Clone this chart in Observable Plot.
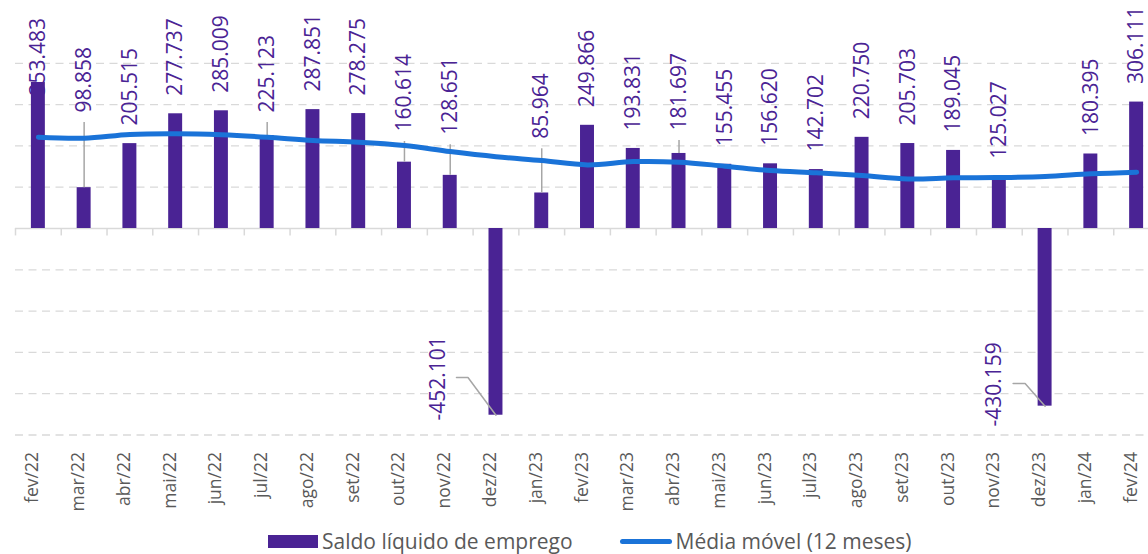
<!DOCTYPE html>
<html>
<head>
<meta charset="utf-8">
<script src="https://cdn.jsdelivr.net/npm/d3@7"></script>
<script src="https://cdn.jsdelivr.net/npm/@observablehq/plot@0.6"></script>
<style>
  html, body { margin: 0; padding: 0; width: 1148px; height: 554px; overflow: hidden; background: #fff; font-family: "Open Sans", sans-serif; }
  #chart { position: absolute; left: 0; top: 0; }
  #chart svg { overflow: hidden; }
  #legend { position: absolute; left: 268px; top: 529px; display: flex; align-items: center; height: 24px; line-height: 24px; font-size: 21px; color: #595959; white-space: nowrap; }
  #legend .sw1 { width: 50px; height: 13px; background: #4a2394; margin-right: 4px; }
  #legend .sw2 { width: 52px; height: 5px; border-radius: 3px; background: #1a73d8; margin-left: 47px; margin-right: 4px; }
</style>
</head>
<body>
<div id="chart"></div>
<div id="legend"><span class="sw1"></span><span>Saldo líquido de emprego</span><span class="sw2"></span><span>Média móvel (12 meses)</span></div>
<script>
// ---- data (thousands) ----
const months = ["fev/22","mar/22","abr/22","mai/22","jun/22","jul/22","ago/22","set/22","out/22","nov/22","dez/22","jan/23","fev/23","mar/23","abr/23","mai/23","jun/23","jul/23","ago/23","set/23","out/23","nov/23","dez/23","jan/24","fev/24"];
const saldo = [353.483, 98.858, 205.515, 277.737, 285.009, 225.123, 287.851, 278.275, 160.614, 128.651, -452.101, 85.964, 249.866, 193.831, 181.697, 155.455, 156.620, 142.702, 220.750, 205.703, 189.045, 125.027, -430.159, 180.395, 306.111];
const mediaMovel = [221, 218.6, 227.6, 229.3, 226.9, 221, 213, 209, 201, 186.4, 174, 164.6, 154, 162, 160.6, 151, 140.4, 134.8, 128.3, 120, 122.7, 123.5, 126, 132.4, 136.4];
const gridValues = [400, 300, 200, 100, -100, -200, -300, -400, -500];

// ---- label annotation placement (value units) ----
const leaderTops = new Map([["mar/22", 256.7], ["jul/22", 256.7], ["out/22", 210.7], ["nov/22", 202.6], ["jan/23", 193], ["abr/23", 213]]);
const pinnedLabels = new Map([["fev/22", 322]]);
const negativeLabels = new Map([
  ["dez/22", {at: -464.9, shift: -1.267, elbow: -360.8, e1: -0.612, e2: -0.863}],
  ["dez/23", {at: -479.4, shift: -1.104, elbow: -375.3, e1: -0.437, e2: -0.699}]
]);

const purple = "#4a2394";
const blue = "#1a73d8";
const grid = "#d9d9d9";

const data = months.map((m, i) => ({i, m, v: saldo[i], ma: mediaMovel[i], label: saldo[i].toFixed(3)}));
const normal = data.filter(d => !leaderTops.has(d.m) && !pinnedLabels.has(d.m) && !negativeLabels.has(d.m));
const leader = data.filter(d => leaderTops.has(d.m)).map(d => ({...d, top: leaderTops.get(d.m)}));
const pinned = data.filter(d => pinnedLabels.has(d.m)).map(d => ({...d, at: pinnedLabels.get(d.m)}));
const negs = data.filter(d => negativeLabels.has(d.m)).map(d => ({...d, ...negativeLabels.get(d.m)}));
const negLeaderPts = negs.flatMap(d => [
  {g: d.m, x: d.i, y: d.v},
  {g: d.m, x: d.i + d.e1, y: d.elbow},
  {g: d.m, x: d.i + d.e2, y: d.elbow}
]);
const boundaries = d3.range(months.length + 1).map(k => k - 0.5);

const labelStyle = {rotate: -90, textAnchor: "start", fontSize: 21, fill: purple, fontFamily: "Open Sans"};

const chart = Plot.plot({
  width: 1148,
  height: 528,
  marginTop: 62.8,
  marginBottom: 93.5,
  marginLeft: 15,
  marginRight: 0,
  x: {type: "linear", domain: [-0.5, months.length - 0.5], range: [15, 1159], axis: null},
  y: {domain: [-500, 400], axis: null},
  style: {fontFamily: "Open Sans", background: "transparent", overflow: "hidden"},
  marks: [
    Plot.ruleY(gridValues, {stroke: grid, strokeWidth: 1.3, strokeDasharray: "8,5.5"}),
    Plot.ruleY([0], {stroke: grid, strokeWidth: 1.6}),
    Plot.ruleX(boundaries, {x: d => d, y1: () => 0, y2: () => -18, stroke: grid, strokeWidth: 1.5}),
    Plot.text(normal, {x: "i", y: "v", text: "label", dy: -18, ...labelStyle}),
    Plot.text(leader, {x: "i", y: "top", text: "label", dy: -10, ...labelStyle}),
    Plot.text(pinned, {x: "i", y: "at", text: "label", ...labelStyle}),
    Plot.text(negs, {x: d => d.i + d.shift, y: "at", text: "label", ...labelStyle}),
    Plot.rectY(data, {x1: d => d.i - 0.5, x2: d => d.i + 0.5, y1: () => 0, y2: "v", insetLeft: 15.9, insetRight: 15.9, fill: purple}),
    Plot.ruleX(leader, {x: "i", y1: "v", y2: "top", stroke: "#a6a6a6", strokeWidth: 1.5}),
    Plot.line(negLeaderPts, {x: "x", y: "y", z: "g", stroke: "#a6a6a6", strokeWidth: 1.5}),
    Plot.line(data, {x: "i", y: "ma", curve: "catmull-rom", stroke: blue, strokeWidth: 5, strokeLinecap: "round", strokeLinejoin: "round"}),
    Plot.text(data, {x: "i", text: "m", frameAnchor: "bottom", dy: 17, rotate: -90, textAnchor: "end", fontSize: 17.5, fill: "#595959", fontFamily: "Open Sans"})
  ]
});
document.getElementById("chart").appendChild(chart);
</script>
</body>
</html>
